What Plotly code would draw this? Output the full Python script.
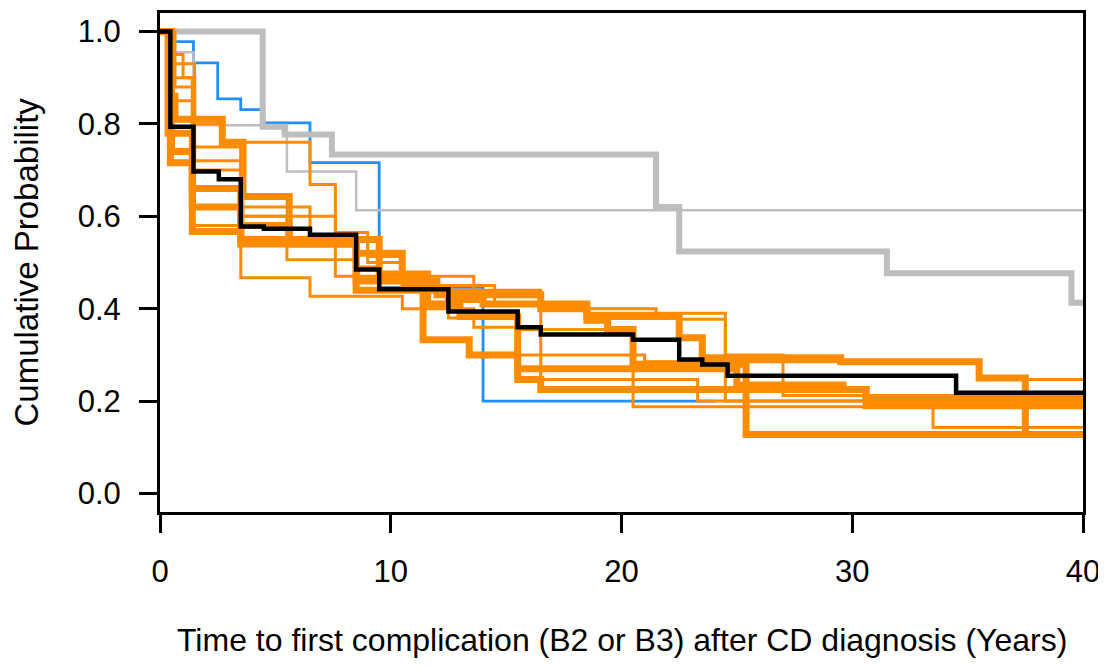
import plotly.graph_objects as go

# ---- data (step curves: times where value changes, value after the step, end time) ----
gray_thick_t = [0, 4.45, 5.4, 7.45, 21.5, 22.5, 31.5, 39.5]
gray_thick_s = [1.0, 0.794, 0.777, 0.734, 0.62, 0.524, 0.477, 0.413]
gray_thick_end = 40

gray_thin_t = [0, 0.5, 1.45, 5.5, 8.5]
gray_thin_s = [1.0, 0.955, 0.797, 0.697, 0.613]
gray_thin_end = 40

blue_t = [0, 0.5, 1.45, 2.5, 3.5, 4.5, 6.5, 9.5, 14.0]
blue_s = [1.0, 0.978, 0.932, 0.854, 0.831, 0.802, 0.716, 0.446, 0.2]
blue_end = 24.05

black_t = [0, 0.45, 1.45, 2.55, 3.5, 4.5, 6.5, 8.5, 9.5, 12.5, 15.5, 16.5, 20.5, 22.5, 23.5, 24.6, 34.5]
black_s = [1.0, 0.794, 0.697, 0.68, 0.578, 0.573, 0.56, 0.485, 0.442, 0.394, 0.36, 0.344, 0.333, 0.29, 0.279, 0.255, 0.218]
black_end = 40

# thick orange cohorts
k1_t = [0, 0.45, 1.4, 3.5, 8.5, 10.5, 12.0, 16.5, 18.5, 19.4, 20.5, 25.4]
k1_s = [1.0, 0.716, 0.567, 0.54, 0.52, 0.46, 0.43, 0.40, 0.375, 0.355, 0.28, 0.128]
k2_t = [0, 0.4, 0.65, 2.7, 3.6, 5.6, 8.5, 11.4, 13.4, 15.5, 25.0, 29.6, 30.6]
k2_s = [1.0, 0.86, 0.81, 0.76, 0.643, 0.54, 0.46, 0.333, 0.30, 0.27, 0.235, 0.225, 0.205]
k3_t = [0, 0.35, 1.4, 3.5, 9.5, 11.6, 13.0, 15.5, 16.5, 30.6]
k3_s = [1.0, 0.78, 0.62, 0.55, 0.475, 0.41, 0.383, 0.247, 0.225, 0.19]
k4_t = [0, 0.5, 1.4, 3.5, 5.6, 8.5, 12.5, 14.0, 18.5, 22.5, 23.5, 29.5, 35.5, 37.5]
k4_s = [1.0, 0.74, 0.66, 0.58, 0.55, 0.44, 0.42, 0.41, 0.383, 0.337, 0.294, 0.285, 0.25, 0.128]

# thin orange cohorts
t1_t = [0, 0.65, 1.5, 2.7, 6.5, 7.6, 9.0, 10.5, 16.5, 21.5, 22.5, 24.5]
t1_s = [1.0, 0.88, 0.80, 0.76, 0.669, 0.565, 0.513, 0.44, 0.40, 0.385, 0.377, 0.2]
t2_t = [0, 0.4, 1.4, 3.5, 6.5, 10.5, 13.6, 15.5, 20.5, 33.5]
t2_s = [1.0, 0.85, 0.58, 0.467, 0.427, 0.40, 0.36, 0.355, 0.188, 0.143]
t3_t = [0, 0.6, 1.5, 3.5, 5.5, 8.5, 9.5, 13.6, 16.5, 21.0, 35.5]
t3_s = [1.0, 0.93, 0.70, 0.60, 0.506, 0.49, 0.47, 0.43, 0.30, 0.285, 0.247]
t4_t = [0, 0.5, 1.4, 3.5, 7.6, 9.5, 12.5, 15.5, 16.5, 23.3]
t4_s = [1.0, 0.90, 0.75, 0.60, 0.47, 0.44, 0.38, 0.30, 0.247, 0.2]
t5_t = [0, 0.3, 1.0, 1.5, 3.5, 6.5, 9.0, 10.5, 14.5, 18.5, 24.5, 27.0]
t5_s = [1.0, 0.95, 0.90, 0.72, 0.62, 0.55, 0.50, 0.45, 0.41, 0.39, 0.30, 0.212]
orange_end = 40

x_ticks = [0, 10, 20, 30, 40]
y_ticks = [0.0, 0.2, 0.4, 0.6, 0.8, 1.0]
y_tick_labels = ["0.0", "0.2", "0.4", "0.6", "0.8", "1.0"]
x_title = "Time to first complication (B2 or B3) after CD diagnosis (Years)"
y_title = "Cumulative Probability"

ORANGE = "#FF8C00"
BLUE = "#1E90FF"
GRAY = "#BEBEBE"

fig = go.Figure()


def add_step(t, s, end, color, width):
    xs = list(t) + [end]
    ys = list(s) + [s[-1]]
    fig.add_trace(go.Scatter(x=xs, y=ys, mode="lines", line_shape="hv",
                             line=dict(color=color, width=width),
                             hoverinfo="skip", showlegend=False))


add_step(blue_t, blue_s, blue_end, BLUE, 2.8)
add_step(gray_thin_t, gray_thin_s, gray_thin_end, GRAY, 2.5)
add_step(gray_thick_t, gray_thick_s, gray_thick_end, GRAY, 6)
for t, s in [(t1_t, t1_s), (t2_t, t2_s), (t3_t, t3_s), (t4_t, t4_s), (t5_t, t5_s)]:
    add_step(t, s, orange_end, ORANGE, 3)
for t, s in [(k1_t, k1_s), (k2_t, k2_s), (k3_t, k3_s), (k4_t, k4_s)]:
    add_step(t, s, orange_end, ORANGE, 7)
add_step(black_t, black_s, black_end, "black", 4.5)

FONT = "Liberation Sans, Arial, sans-serif"

fig.update_layout(
    width=1098, height=652,
    margin=dict(l=152, r=23, t=5, b=148, autoexpand=False),
    paper_bgcolor="white", plot_bgcolor="white",
    font=dict(family=FONT, size=30, color="black"),
    xaxis=dict(range=[0, 40], tickvals=x_ticks, ticktext=[str(v) for v in x_ticks],
               showgrid=False, zeroline=False, showline=True, linecolor="black",
               linewidth=3, mirror=True, ticks="outside", ticklen=18, tickwidth=2.5,
               tickcolor="black", ticklabelstandoff=12, automargin=False,
               tickfont=dict(family=FONT, size=31)),
    yaxis=dict(range=[-0.04, 1.04], tickvals=y_ticks, ticktext=y_tick_labels,
               showgrid=False, zeroline=False, showline=True, linecolor="black",
               linewidth=3, mirror=True, ticks="outside", ticklen=18, tickwidth=2.5,
               tickcolor="black", ticklabelstandoff=12, automargin=False,
               tickfont=dict(family=FONT, size=31)),
    annotations=[
        dict(text=x_title, xref="paper", yref="paper", x=0.5, y=0,
             yshift=-128, xshift=0, showarrow=False, xanchor="center", yanchor="middle",
             font=dict(family=FONT, size=32)),
        dict(text=y_title, xref="paper", yref="paper", x=0, y=0.5,
             xshift=-134, showarrow=False, textangle=-90, xanchor="center", yanchor="middle",
             font=dict(family=FONT, size=33)),
    ],
)

fig.write_html("out.html")
